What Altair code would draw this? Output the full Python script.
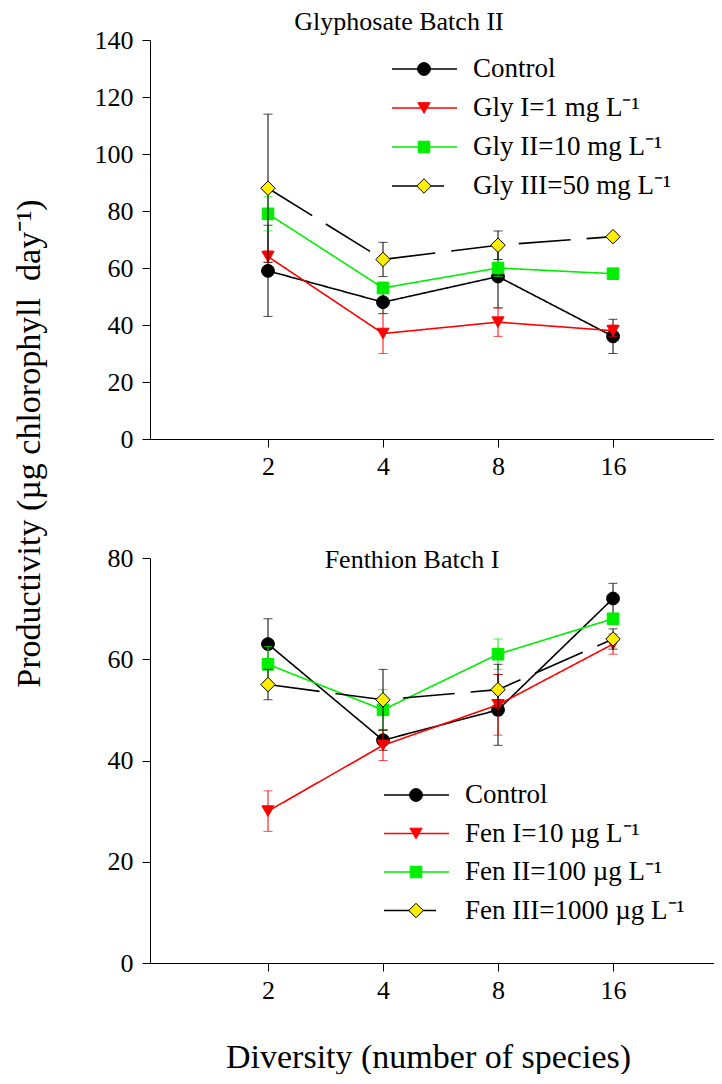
import altair as alt
import pandas as pd
import numpy as np

# ---------------- data ----------------
diversity = [2, 4, 8, 16]

gly_names = ["Control", "Gly I=1 mg L⁻¹", "Gly II=10 mg L⁻¹", "Gly III=50 mg L⁻¹"]
gly_control = [59, 48, 57, 36]
gly_control_err = [16, 4, 11, 6]
gly_1 = [64, 37, 41, 38]
gly_1_err = [2, 7, 5, 2]
gly_10 = [79, 53, 60, 58]
gly_10_err = [6, 2, 3, 0]
gly_50 = [88, 63, 68, 71]
gly_50_err = [26, 6, 5, 0]

fen_names = ["Control", "Fen I=10 µg L⁻¹", "Fen II=100 µg L⁻¹", "Fen III=1000 µg L⁻¹"]
fen_control = [63, 44, 50, 72]
fen_control_err = [5, 2, 7, 3]
fen_10 = [30, 43, 51, 63]
fen_10_err = [4, 3, 6, 2]
fen_100 = [59, 50, 61, 68]
fen_100_err = [3.5, 4, 3, 1]
fen_1000 = [55, 52, 54, 64]
fen_1000_err = [3, 6, 5, 2]

# ---------------- styles ----------------
FONT = "Liberation Serif"
GREEN = "#00ee00"
YELLOW = "#ffee00"
styles = [
    dict(color="black", shape="circle", fill="black", stroke="black", dash=[1, 0], size=165),
    dict(color="#ff0000", shape="triangle-down", fill="#ff0000", stroke="#ff0000", dash=[1, 0], size=150),
    dict(color=GREEN, shape="square", fill=GREEN, stroke=GREEN, dash=[1, 0], size=135),
    dict(color="black", shape="diamond", fill=YELLOW, stroke="black", dash=[52, 16], size=210),
]

W = 564
XDOM = [-0.026, 4.878]


def build_panel(names, vals, errs, ymax, height, title, title_pos, leg_x, leg_y0, leg_dy,
                x_title=None, y_title=None):
    xaxis = dict(values=[1, 2, 3, 4], labelExpr="'' + pow(2, datum.value)",
                 labelPadding=6)
    if x_title:
        xaxis.update(title=x_title, titleY=104, titleBaseline="alphabetic",
                     titleX=W / 2 - 4, titleAlign="center")
    else:
        xaxis.update(title=None)
    yaxis = dict(values=list(range(0, ymax + 1, 20)), labelPadding=9)
    if y_title:
        yaxis.update(title=y_title, titleAngle=-90, titleX=-121, titleY=-115,
                     titleAlign="center", titleBaseline="middle")
    else:
        yaxis.update(title=None)

    x = alt.X("pos:Q", scale=alt.Scale(domain=XDOM, nice=False, zero=False),
              axis=alt.Axis(**xaxis))

    def Y(field):
        return alt.Y(f"{field}:Q", scale=alt.Scale(domain=[0, ymax], nice=False),
                     axis=alt.Axis(**yaxis))

    layers = []
    for i, (v, e) in enumerate(zip(vals, errs)):
        st = styles[i]
        v = np.array(v, dtype=float)
        e = np.array(e, dtype=float)
        df = pd.DataFrame({"pos": np.log2(diversity), "value": v,
                           "lo": v - e, "hi": v + e, "err": e})
        dfe = df[df.err > 0]
        layers.append(alt.Chart(df).mark_line(color=st["color"], strokeWidth=1.6,
                                              strokeDash=st["dash"]).encode(x=x, y=Y("value")))
        if len(dfe):
            layers.append(alt.Chart(dfe).mark_rule(color=st["color"], strokeWidth=1)
                          .encode(x=x, y=Y("lo"), y2="hi:Q"))
            for col in ["lo", "hi"]:
                layers.append(alt.Chart(dfe).mark_tick(color=st["color"], orient="horizontal",
                                                       size=9, thickness=1)
                              .encode(x=x, y=Y(col)))
        layers.append(alt.Chart(df).mark_point(shape=st["shape"], filled=True, fill=st["fill"],
                                               stroke=st["stroke"], strokeWidth=1,
                                               opacity=1, size=st["size"])
                      .encode(x=x, y=Y("value")))

    # legend (manual, mimicking the original)
    one = pd.DataFrame({"k": [0]})
    for i, name in enumerate(names):
        st = styles[i]
        yy = leg_y0 + i * leg_dy
        layers.append(alt.Chart(one).mark_rule(color=st["color"], strokeWidth=1.6,
                                               strokeDash=st["dash"])
                      .encode(x=alt.value(leg_x), x2=alt.value(leg_x + 65), y=alt.value(yy)))
        layers.append(alt.Chart(one).mark_point(shape=st["shape"], filled=True, fill=st["fill"],
                                                stroke=st["stroke"], strokeWidth=1, opacity=1,
                                                size=st["size"])
                      .encode(x=alt.value(leg_x + 32), y=alt.value(yy)))
        layers.append(alt.Chart(pd.DataFrame({"t": [name]})).mark_text(
            font=FONT, fontSize=27, align="left", baseline="middle", color="black")
            .encode(x=alt.value(leg_x + 81), y=alt.value(yy), text="t:N"))

    layers.append(alt.Chart(pd.DataFrame({"t": [title]})).mark_text(
        font=FONT, fontSize=26, align="center", baseline="middle", color="black")
        .encode(x=alt.value(title_pos[0]), y=alt.value(title_pos[1]), text="t:N"))

    return alt.layer(*layers).properties(width=W, height=height)


top = build_panel(gly_names, [gly_control, gly_1, gly_10, gly_50],
                  [gly_control_err, gly_1_err, gly_10_err, gly_50_err],
                  140, 399, "Glyphosate Batch II", (249, -18),
                  leg_x=242, leg_y0=29, leg_dy=39)

bottom = build_panel(fen_names, [fen_control, fen_10, fen_100, fen_1000],
                     [fen_control_err, fen_10_err, fen_100_err, fen_1000_err],
                     80, 405, "Fenthion Batch I", (262, 2),
                     leg_x=234, leg_y0=237, leg_dy=38.5,
                     x_title="Diversity (number of species)",
                     y_title="Productivity (µg chlorophyll\u00a0 day⁻¹)")

chart = alt.vconcat(top, bottom, spacing=119, bounds="flush").properties(
    padding={"left": 4, "top": 1, "right": 0, "bottom": 0}
).configure_view(stroke=None).configure_axis(
    domainColor="black", domainWidth=1, tickColor="black", tickSize=8, tickWidth=1,
    labelFont=FONT, labelFontSize=26, labelColor="black", grid=False,
    titleFont=FONT, titleFontSize=34, titleFontWeight="normal", titleColor="black"
)

chart.save("out.html", embed_options={"renderer": "svg", "actions": False})
